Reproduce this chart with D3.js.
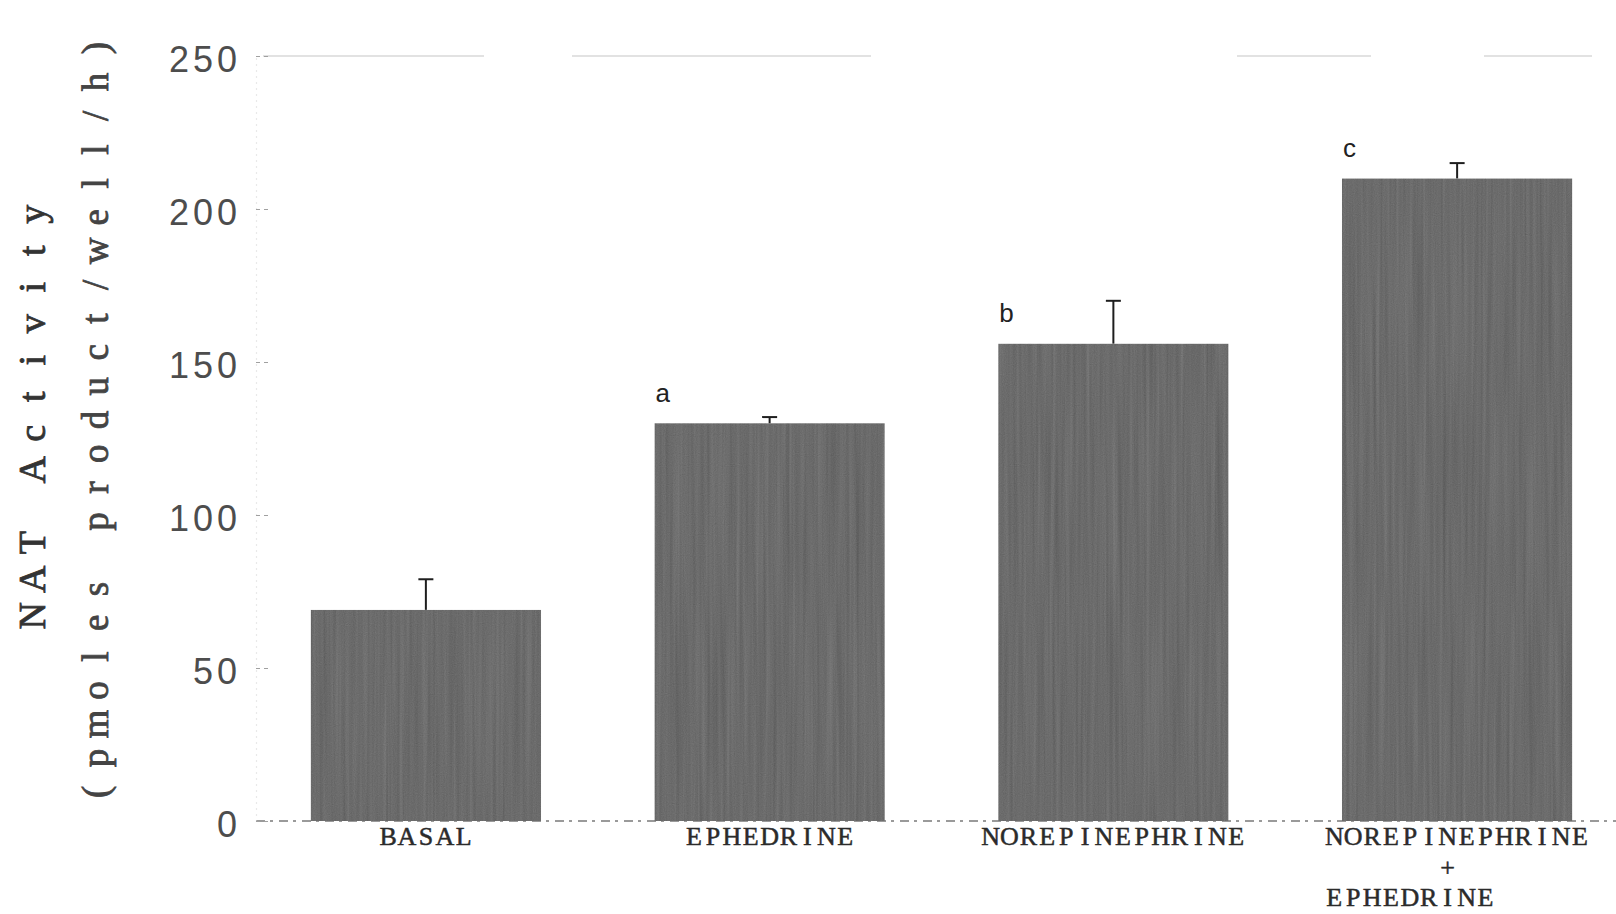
<!DOCTYPE html>
<html>
<head>
<meta charset="utf-8">
<script src="https://cdn.jsdelivr.net/npm/d3@7"></script>
<style>
  html, body { margin: 0; padding: 0; background: #fff; }
  svg { display: block; }
</style>
</head>
<body>
<script>
// NAT activity per treatment (mean and SEM), significance marks
const categories = ["BASAL", "EPHEDRINE", "NOREPINEPHRINE", "NOREPINEPHRINE + EPHEDRINE"];
const labelLines = [["BASAL"], ["EPHEDRINE"], ["NOREPINEPHRINE"], ["NOREPINEPHRINE", "      +", "EPHEDRINE"]];
const means = [69, 130, 156, 210];
const sems = [10, 2, 14, 5];
const marks = ["", "a", "b", "c"];
const yTicks = [0, 50, 100, 150, 200, 250];
const yTitle = ["NAT Activity", "(pmoles product/well/h)"];

const W = 1616, H = 914;
const svg = d3.select("body").append("svg").attr("width", W).attr("height", H);

// scanned-paper streak texture for the bars
const defs = svg.append("defs");
const f = defs.append("filter").attr("id", "grain")
  .attr("x", 0).attr("y", 0).attr("width", 1).attr("height", 1)
  .attr("color-interpolation-filters", "sRGB");
f.append("feTurbulence").attr("type", "fractalNoise").attr("baseFrequency", "0.3 0.005")
  .attr("numOctaves", 2).attr("seed", 7).attr("result", "streak");
f.append("feColorMatrix").attr("in", "streak").attr("type", "matrix")
  .attr("values", "0.33 0.33 0.33 0 0  0.33 0.33 0.33 0 0  0.33 0.33 0.33 0 0  0 0 0 0 0.22")
  .attr("result", "streakGray");
f.append("feTurbulence").attr("type", "fractalNoise").attr("baseFrequency", "0.9")
  .attr("numOctaves", 1).attr("seed", 3).attr("result", "speck");
f.append("feColorMatrix").attr("in", "speck").attr("type", "matrix")
  .attr("values", "0.33 0.33 0.33 0 0  0.33 0.33 0.33 0 0  0.33 0.33 0.33 0 0  0 0 0 0 0.14")
  .attr("result", "speckGray");
const merge = f.append("feMerge").attr("result", "tex");
merge.append("feMergeNode").attr("in", "SourceGraphic");
merge.append("feMergeNode").attr("in", "streakGray");
merge.append("feMergeNode").attr("in", "speckGray");
f.append("feComposite").attr("in", "tex").attr("in2", "SourceGraphic").attr("operator", "in");

const x = d3.scaleBand().domain(categories).range([254, 1629])
  .paddingInner(0.33).paddingOuter(0.165);
const y = d3.scaleLinear().domain([0, 250]).range([821, 56]);
const axisX = 256;

// faint, partly faded top frame line
svg.append("line")
  .attr("x1", 263).attr("x2", W).attr("y1", y(250)).attr("y2", y(250))
  .attr("stroke", "#c6c6c6").attr("stroke-width", 1.2)
  .attr("stroke-dasharray", "221 88 299 366 134 113 108 2000");
// baseline
svg.append("line")
  .attr("x1", axisX).attr("x2", W).attr("y1", y(0)).attr("y2", y(0))
  .attr("stroke", "#7a7a7a").attr("stroke-width", 1.4).attr("stroke-dasharray", "9 5 3 6");

// y axis
const yAxis = d3.axisLeft(y).tickValues(yTicks).tickSizeInner(-15).tickSizeOuter(0).tickPadding(15);
const gy = svg.append("g").attr("transform", `translate(${axisX},0)`).call(yAxis);
gy.select(".domain").attr("stroke", "#d4d4d4").attr("stroke-width", 1.2).attr("stroke-dasharray", "1 5");
gy.selectAll(".tick line").attr("stroke", "#a0a0a0").attr("stroke-width", 1.2).attr("stroke-dasharray", "4 4");
gy.selectAll(".tick text")
  .attr("font-family", "'Liberation Sans', Arial, sans-serif")
  .attr("font-size", 36).attr("letter-spacing", 4).attr("fill", "#4d4d4d")
  .attr("dy", "0.42em");

// bars
svg.append("g").selectAll("rect").data(categories).join("rect")
  .attr("x", d => x(d)).attr("width", x.bandwidth())
  .attr("y", (d, i) => y(means[i])).attr("height", (d, i) => y(0) - y(means[i]))
  .attr("fill", "#626262").attr("filter", "url(#grain)");

// upper error bars
const eb = svg.append("g").attr("stroke", "#1e1e1e").attr("stroke-width", 2);
categories.forEach((c, i) => {
  const cx = x(c) + x.bandwidth() / 2;
  eb.append("line").attr("x1", cx).attr("x2", cx).attr("y1", y(means[i])).attr("y2", y(means[i] + sems[i]));
  eb.append("line").attr("x1", cx - 7.5).attr("x2", cx + 7.5).attr("y1", y(means[i] + sems[i])).attr("y2", y(means[i] + sems[i]));
});

// significance letters
svg.append("g").selectAll("text").data(categories).join("text")
  .attr("x", d => x(d) + 1).attr("y", (d, i) => y(means[i]) - 21.5)
  .attr("font-family", "'Liberation Sans', Arial, sans-serif").attr("font-size", 26)
  .attr("fill", "#222").text((d, i) => marks[i]);

// typewriter-style text: each glyph centred in a fixed-width cell
function gridText(g, str, x0, pitch) {
  const xs = [], chars = [];
  for (let k = 0; k < str.length; k++) {
    if (str[k] !== " ") { xs.push(x0 + (k + 0.5) * pitch); chars.push(str[k]); }
  }
  g.attr("x", xs.join(" ")).attr("text-anchor", "middle").text(chars.join(""));
}

// category labels
const pitch = 18.9;
categories.forEach((c, i) => {
  const cx = x(c) + x.bandwidth() / 2;
  const x0 = cx - labelLines[i][0].length * pitch / 2;
  labelLines[i].forEach((line, j) => {
    const t = svg.append("text").attr("y", 845 + j * 30.5)
      .attr("font-family", "'Liberation Serif', 'Times New Roman', serif")
      .attr("font-size", 26).attr("fill", "#2b2b2b")
      .attr("stroke", "#2b2b2b").attr("stroke-width", 0.5);
    gridText(t, line, x0, pitch);
  });
});

// rotated y title, two lines
const titleSpecs = [
  { text: yTitle[0], centre: 415, pitch: 36.5, base: 45, size: 38, fill: "#333" },
  { text: yTitle[1], centre: 420, pitch: 33.8, base: 108, size: 37, fill: "#444" }
];
titleSpecs.forEach(s => {
  const t = svg.append("text").attr("transform", "rotate(-90)").attr("y", s.base)
    .attr("font-family", "'Liberation Serif', 'Times New Roman', serif")
    .attr("font-size", s.size).attr("fill", s.fill)
    .attr("stroke", s.fill).attr("stroke-width", 0.8);
  gridText(t, s.text, -s.centre - s.text.length * s.pitch / 2, s.pitch);
});
</script>
</body>
</html>
